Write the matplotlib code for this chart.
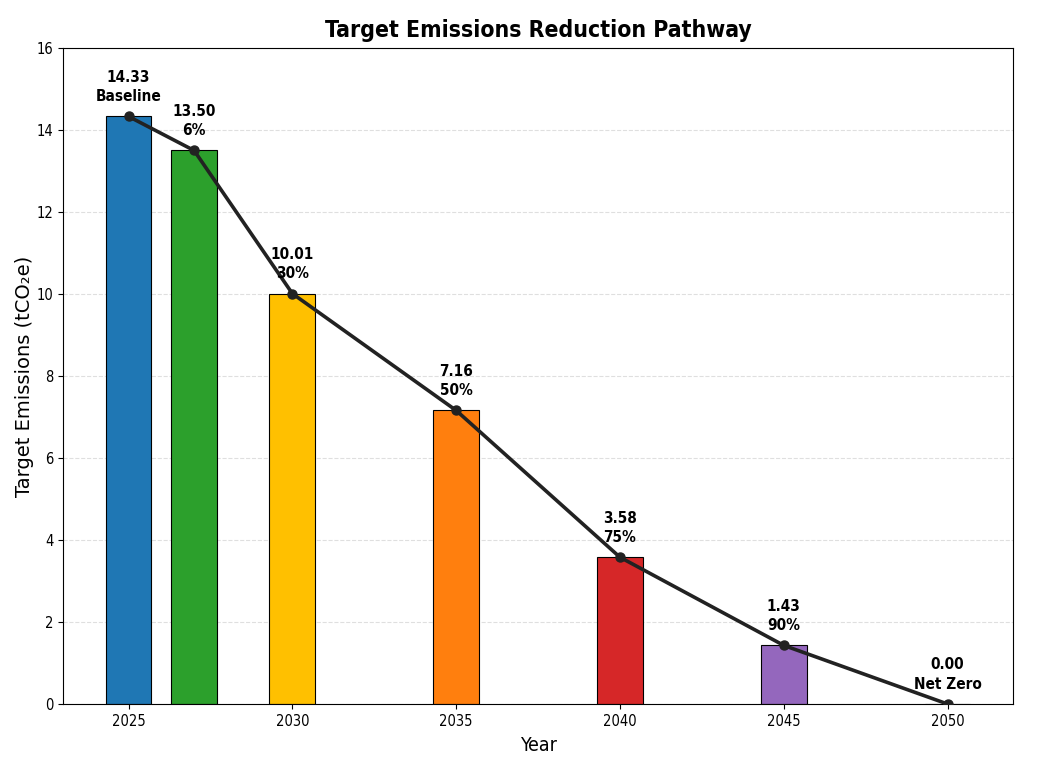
import matplotlib
matplotlib.use("Agg")
import matplotlib.pyplot as plt
from matplotlib import font_manager

years = [2025, 2027, 2030, 2035, 2040, 2045, 2050]
emissions = [14.33, 13.50, 10.01, 7.16, 3.58, 1.43, 0.00]
tags = ["Baseline", "6%", "30%", "50%", "75%", "90%", "Net Zero"]
colors = ["#1f77b4", "#2ca02c", "#ffc000", "#ff7f0e", "#d62728", "#9467bd", "#7f7f7f"]
tick_years = [2025, 2030, 2035, 2040, 2045, 2050]

has_cond = any("Condensed" in f.fname for f in font_manager.fontManager.ttflist)
stretch = "condensed" if has_cond else "normal"
plt.rcParams["font.family"] = ["DejaVu Sans"]
plt.rcParams["font.stretch"] = stretch

fig = plt.figure(figsize=(10.37, 7.57), dpi=100)
ax = fig.add_axes([0.0608, 0.070, 0.9161, 0.8666])

ax.bar(years, emissions, width=1.4, color=colors, edgecolor="black", linewidth=0.8, zorder=2)
ax.plot(years, emissions, color="#222222", linewidth=2.6, marker="o", markersize=6.5, zorder=3)

for x, y, t in zip(years, emissions, tags):
    ax.annotate(f"{y:.2f}\n{t}", (x, y), xytext=(0, 9), textcoords="offset points",
                ha="center", va="bottom", fontsize=11, fontweight="bold",
                fontstretch=stretch, linespacing=1.35)

ax.set_xlim(2023, 2052)
ax.set_ylim(0, 16)
ax.set_xticks(tick_years)
ax.set_yticks(range(0, 17, 2))
ax.tick_params(labelsize=10.5)
ax.grid(axis="y", linestyle="--", alpha=0.4, zorder=0)
ax.set_axisbelow(True)

ax.set_title("Target Emissions Reduction Pathway", fontsize=16.5, fontweight="bold",
             fontstretch=stretch, pad=8)
ax.set_xlabel("Year", fontsize=14, fontstretch=stretch, labelpad=5)
ax.set_ylabel("Target Emissions (tCO\u2082e)", fontsize=14, fontstretch="normal", labelpad=2)

fig.savefig("out.png", dpi=100)
